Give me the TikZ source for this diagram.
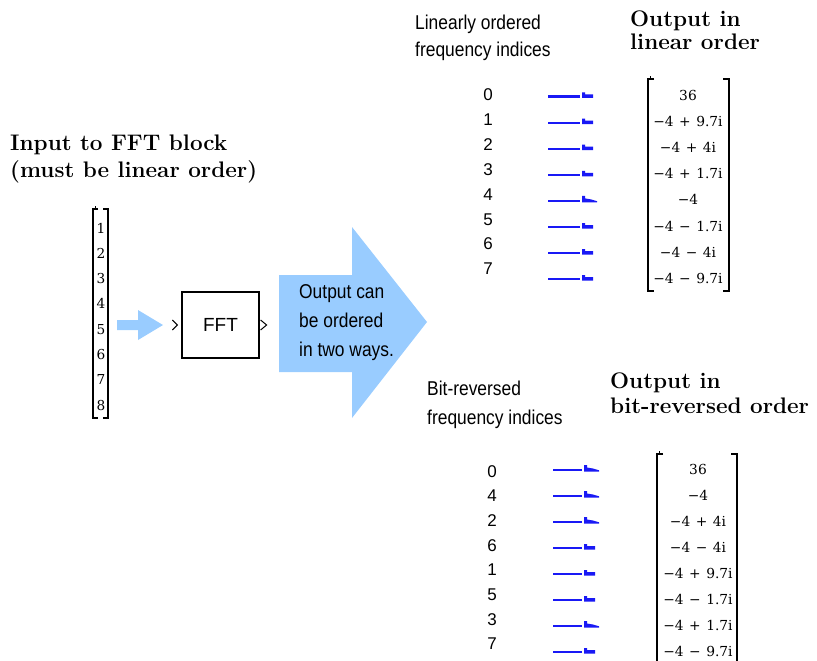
\documentclass[tikz,border=0pt]{standalone}
\usepackage{fontspec}
\newfontfamily\libsans{Liberation Sans}
\newfontfamily\dvserif{DejaVu Serif}
\newfontfamily\dvserifw{DejaVu Serif}[WordSpace=1.25]
\definecolor{arrowblue}{RGB}{153,204,255}
\definecolor{lineblue}{RGB}{25,25,245}
\newcommand\cnd[1]{\scalebox{0.87}[1]{#1}}
\begin{document}
\begin{tikzpicture}[x=1pt,y=-1pt,
  titletext/.style={anchor=base west, inner sep=0, font=\fontsize{22.5}{26}\selectfont\bfseries},
  condtext/.style={anchor=base west, inner sep=0, font=\libsans\fontsize{20}{24}\selectfont},
  idxtext/.style={inner sep=0, text height=12pt, text depth=0pt, font=\libsans\fontsize{17}{20}\selectfont},
  vectext/.style={inner sep=0, text height=10pt, text depth=0pt, font=\dvserif\fontsize{13.7}{16}\selectfont},
  mattext/.style={inner sep=0, text height=10pt, text depth=0pt, font=\dvserifw\fontsize{13.8}{16}\selectfont},
  bracket/.style={line width=1.8pt},
  blueline/.style={draw=lineblue, line width=2.2pt},
  port/.style={line width=1pt},
  fatarrow/.style={fill=arrowblue}
]
\useasboundingbox (0,0) rectangle (817,661);

% ---- input side ----
\node[titletext] (t1) at (10,150) {Input to FFT block};
\node[titletext] (t2) at (10,177) {(must be linear order)};

\draw[bracket] (98,209) -- (93,209) -- (93,418) -- (98,418);
\draw[bracket] (103,209) -- (108,209) -- (108,418) -- (103,418);
\draw[line width=1pt] (95,209) -- (95,206);
\foreach \v [count=\i from 0] in {1,2,3,4,5,6,7,8}
  \node[vectext] (v\i) at (101,228+25.3*\i) {\v};

\fill[fatarrow] (117,320) -- (138,320) -- (138,310) -- (163,325) -- (138,340) -- (138,330) -- (117,330) -- cycle;

\node[draw, line width=1.2pt, minimum width=77pt, minimum height=66pt, inner sep=0,
      font=\libsans\fontsize{19}{22}\selectfont] (fft) at (220.5,325) {FFT};
\draw[port] ([xshift=-9pt,yshift=5pt]fft.west) -- ([xshift=-4pt]fft.west) -- ([xshift=-9pt,yshift=-5pt]fft.west);
\draw[port] ([xshift=1pt,yshift=5pt]fft.east) -- ([xshift=7pt]fft.east) -- ([xshift=1pt,yshift=-5pt]fft.east);

% ---- big arrow ----
\fill[fatarrow] (279,275) -- (352,275) -- (352,227) -- (427,322) -- (352,418) -- (352,372) -- (279,372) -- cycle;
\node[condtext] (a1) at (299,298) {\cnd{Output can}};
\node[condtext] (a2) at (299,327) {\cnd{be ordered}};
\node[condtext] (a3) at (299,356) {\cnd{in two ways.}};

% ---- linear order ----
\node[condtext] (l1) at (415,30) {\cnd{Linearly ordered}};
\node[condtext] (l2) at (415,57) {\cnd{frequency indices}};
\node[titletext] (o1) at (630,27) {Output in};
\node[titletext] (o2) at (630,50) {linear order};

\foreach \lab/\val [count=\i from 0] in {0/36,1/−4 + 9.7i,2/−4 + 4i,3/−4 + 1.7i,4/−4,5/−4 − 1.7i,6/−4 − 4i,7/−4 − 9.7i}{
  \node[idxtext] (ui\i) at (488,94.5+24.9*\i) {\lab};
  \node[mattext] (um\i) at (688,95.5+26.1*\i) {\val};
  \draw[blueline] (548,96.5+26.1*\i) -- (580,96.5+26.1*\i);
}
\foreach \i in {0,1,2,3,5,6,7}
  \fill[lineblue] (582,96.5+26.1*\i-4) -- (585,96.5+26.1*\i-4) -- (585,96.5+26.1*\i-2) -- (593,96.5+26.1*\i-2) -- (593,96.5+26.1*\i+1.5) -- (582,96.5+26.1*\i+1.5) -- cycle;
\foreach \i in {4}
  \fill[lineblue] (582,96.5+26.1*\i-5) -- (585,96.5+26.1*\i-5) -- (585,96.5+26.1*\i-2.5) -- (591,96.5+26.1*\i-1.5) -- (597,96.5+26.1*\i+0.3) -- (597,96.5+26.1*\i+1.5) -- (582,96.5+26.1*\i+1.5) -- cycle;

\draw[bracket] (654,79) -- (648,79) -- (648,291) -- (654,291);
\draw[bracket] (723,79) -- (729,79) -- (729,291) -- (723,291);
\draw[line width=1pt] (650,79) -- (650,76);

% ---- bit-reversed order ----
\node[condtext] (b1) at (427,395) {\cnd{Bit-reversed}};
\node[condtext] (b2) at (427,424) {\cnd{frequency indices}};
\node[titletext] (p1) at (610,388) {Output in};
\node[titletext] (p2) at (610,413) {bit-reversed order};

\foreach \lab/\val [count=\i from 0] in {0/36,4/−4,2/−4 + 4i,6/−4 − 4i,1/−4 + 9.7i,5/−4 − 1.7i,3/−4 + 1.7i,7/−4 − 9.7i}{
  \node[idxtext] (bi\i) at (492,471+24.7*\i) {\lab};
  \node[mattext] (bm\i) at (698,469+26*\i) {\val};
  \draw[blueline] (553,470+26*\i) -- (582,470+26*\i);
}
\foreach \i in {3,4,5,7}
  \fill[lineblue] (584,470+26*\i-4) -- (587,470+26*\i-4) -- (587,470+26*\i-2) -- (595,470+26*\i-2) -- (595,470+26*\i+1.5) -- (584,470+26*\i+1.5) -- cycle;
\foreach \i in {0,1,2,6}
  \fill[lineblue] (584,470+26*\i-5) -- (587,470+26*\i-5) -- (587,470+26*\i-2.5) -- (593,470+26*\i-1.5) -- (599,470+26*\i+0.3) -- (599,470+26*\i+1.5) -- (584,470+26*\i+1.5) -- cycle;

\draw[bracket] (663,454) -- (657,454) -- (657,668);
\draw[bracket] (731,454) -- (737,454) -- (737,668);
\draw[line width=1pt] (659,454) -- (659,451);
\end{tikzpicture}
\end{document}
